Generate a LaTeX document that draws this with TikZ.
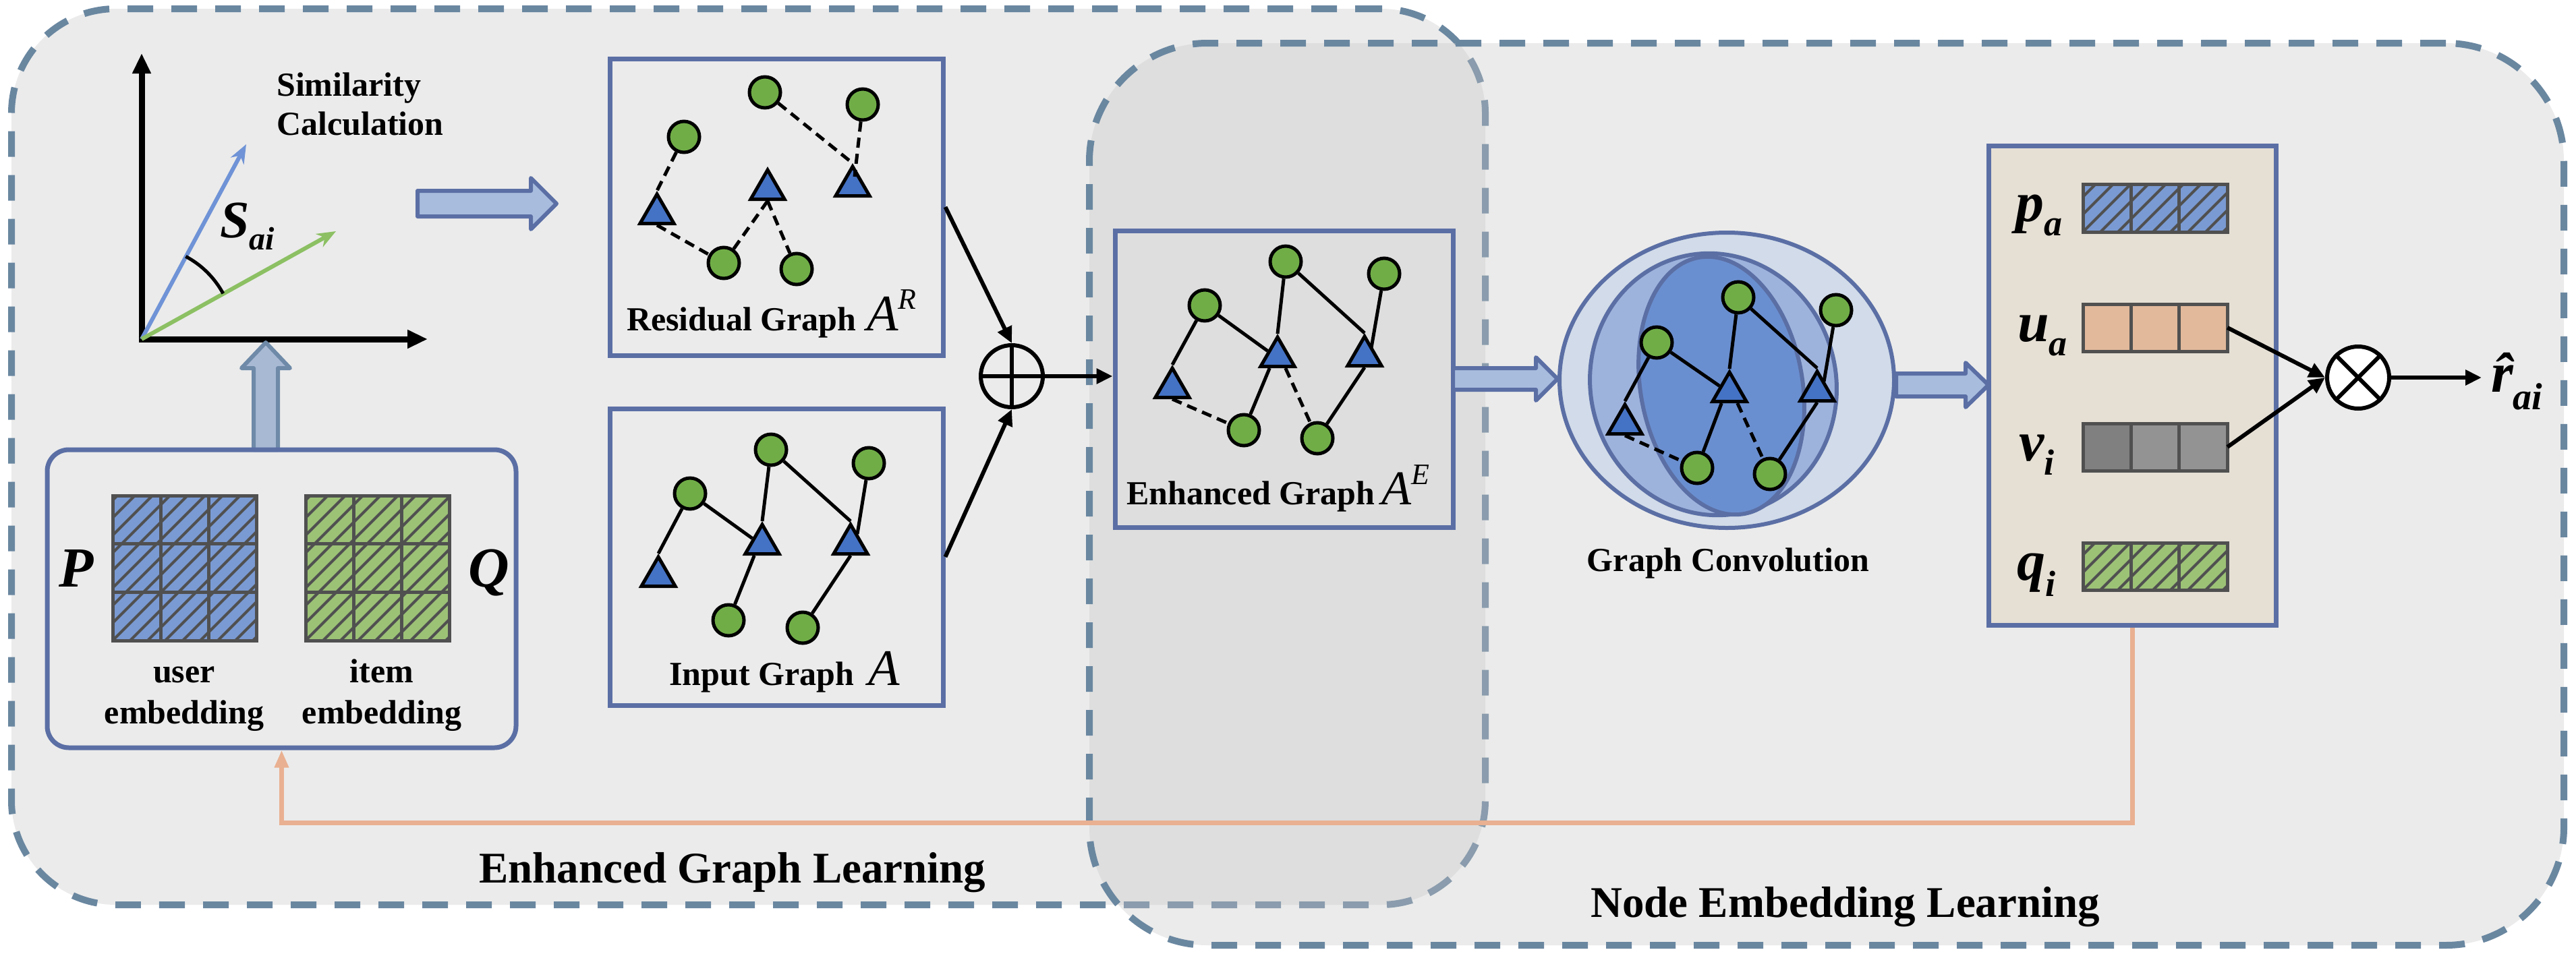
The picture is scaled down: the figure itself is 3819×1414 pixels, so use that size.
\documentclass[tikz,border=0pt]{standalone}
\usepackage{fontspec}
\setmainfont{Liberation Serif}
\usetikzlibrary{arrows.meta,shapes.geometric,fit,calc}
\newcommand\fsz[1]{\fontsize{#1}{#1}\selectfont}
\definecolor{dashc}{RGB}{106,135,160}
\definecolor{boxc}{RGB}{91,111,165}
\definecolor{bgA}{RGB}{235,235,235}
\definecolor{bgB}{RGB}{198,198,198}
\definecolor{arrfill}{RGB}{168,188,222}
\definecolor{uparrfill}{RGB}{168,185,212}
\definecolor{uparrline}{RGB}{110,138,168}
\definecolor{gnodec}{RGB}{112,173,71}
\definecolor{tnodec}{RGB}{68,114,196}
\definecolor{vblue}{RGB}{111,147,214}
\definecolor{vgreen}{RGB}{140,192,99}
\definecolor{pblue}{RGB}{122,154,211}
\definecolor{qgreen}{RGB}{156,194,118}
\definecolor{gridc}{RGB}{80,80,80}
\definecolor{uorange}{RGB}{226,185,155}
\definecolor{vgrayA}{RGB}{128,128,128}
\definecolor{vgrayB}{RGB}{147,147,147}
\definecolor{panelc}{RGB}{229,223,212}
\definecolor{orangec}{RGB}{233,176,145}
\definecolor{ellA}{RGB}{209,219,233}
\definecolor{ellB}{RGB}{158,179,220}
\definecolor{ellC}{RGB}{106,143,208}
\newcommand\blkR[7]{\draw[#7] (#1,{#3-#4}) -- ({#2-#6},{#3-#4}) -- ({#2-#6},{#3-#5}) -- (#2,#3) -- ({#2-#6},{#3+#5}) -- ({#2-#6},{#3+#4}) -- (#1,{#3+#4}) -- cycle;}
\newcommand\blkU[7]{\draw[#7] ({#1-#4},#2) -- ({#1-#4},{#3+#6}) -- ({#1-#5},{#3+#6}) -- (#1,#3) -- ({#1+#5},{#3+#6}) -- ({#1+#4},{#3+#6}) -- ({#1+#4},#2) -- cycle;}
\newcommand\hatchbox[4]{\begin{scope}\clip (#1,#2) rectangle (#3,#4);
  \foreach \k in {-260,-234,...,260} {\draw[hatchl] ({#1+\k},#4) -- ++(300,-300);}\end{scope}}
\begin{document}
\begin{tikzpicture}[x=1pt,y=-1pt,
  bigbox/.style={draw=dashc, line width=10pt, dash pattern=on 38pt off 27pt, inner sep=0pt},
  gbox/.style={draw=boxc, line width=7pt, inner sep=0pt},
  gnode/.style={circle, draw=black, fill=gnodec, line width=5pt, minimum size=46pt, inner sep=0pt},
  tnode/.style={regular polygon, regular polygon sides=3, draw=black, fill=tnodec, line width=5pt, minimum size=58pt, inner sep=0pt},
  sedge/.style={draw=black, line width=5pt},
  dedge/.style={draw=black, line width=5pt, dash pattern=on 15pt off 9pt},
  lbl/.style={font=\fsz{50}\bfseries, inner sep=0pt, anchor=base west},
  clbl/.style={font=\fsz{50}\bfseries, inner sep=0pt, anchor=base},
  biglbl/.style={font=\fsz{65}\bfseries, inner sep=0pt, anchor=base west},
  mathlbl/.style={font=\fsz{84}\bfseries\itshape, inner sep=0pt, anchor=base west},
  conn/.style={draw=black, line width=6pt, -{Triangle[length=24pt,width=22pt]}},
  axisline/.style={draw=black, line width=9pt, -{Triangle[length=30pt,width=26pt]}},
  vec/.style={line width=6pt, -{Stealth[length=28pt,width=22pt]}},
  barrow/.style={draw=boxc, fill=arrfill, line width=6pt, line join=round},
  uarrow/.style={draw=uparrline, fill=uparrfill, line width=6pt, line join=round},
  gridl/.style={draw=gridc, line width=5pt},
  hatchl/.style={draw=gridc, line width=4pt},
  ellb/.style={draw=boxc, line width=6pt},
  oline/.style={draw=orangec, line width=7pt, -{Triangle[length=26pt,width=20pt]}},
]
\useasboundingbox (0,0) rectangle (3819,1414);
\fill[white] (0,0) rectangle (3819,1414);

% big dashed regions
\node[bigbox, fill=bgA, rounded corners=155pt, fit={(17,13) (2202,1342)}] (egl) {};
\node[bigbox, fill=bgB, fill opacity=0.35, rounded corners=175pt, fit={(1615,64) (3801,1402)}] (nel) {};

% similarity axes
\coordinate (O) at (210,503);
\coordinate (Ytip) at (210,79);
\coordinate (Xtip) at (634,503);
\coordinate (Bt) at (365,214);
\coordinate (Gt) at (498,343);
\draw[axisline] ($(O)+(0,4.5)$) -- (Ytip);
\draw[axisline] ($(O)+(-4.5,0)$) -- (Xtip);
\draw[vec, draw=vblue, fill=vblue] (O) -- (Bt);
\draw[vec, draw=vgreen, fill=vgreen] (O) -- (Gt);
\draw[line width=5pt] (275.4,380.4) .. controls (299,392.9) and (317.9,411.9) .. (330.8,435.3);
\node[anchor=base west, inner sep=0pt, font=\fsz{78}\bfseries\itshape] (sai) at (326,352) {S\raisebox{-18pt}{\fsz{48}ai}};
\node[lbl] (simA) at (410,142) {Similarity};
\node[lbl] (simB) at (410,200) {Calculation};

% block arrows
\blkR{619}{825}{302}{19}{38}{38}{barrow}
\blkU{394}{667}{508}{18}{36}{38}{uarrow}

% embedding box
\node[gbox, rounded corners=32pt, fit={(70,667) (765,1109)}] (emb) {};
\fill[pblue] (167,735) rectangle (381,950);
\hatchbox{167}{735}{381}{950}
\foreach \i in {0,1,2} \foreach \j in {0,1,2} \draw[gridl] ({167+\i*71.33},{735+\j*71.67}) rectangle ++(71.33,71.67);
\fill[qgreen] (453,735) rectangle (667,950);
\hatchbox{453}{735}{667}{950}
\foreach \i in {0,1,2} \foreach \j in {0,1,2} \draw[gridl] ({453+\i*71.33},{735+\j*71.67}) rectangle ++(71.33,71.67);
\node[mathlbl] (Plbl) at (87,870) {P};
\node[mathlbl] (Qlbl) at (694,870) {Q};
\node[clbl] (userA) at (273,1012) {user};
\node[clbl] (userB) at (273,1073) {embedding};
\node[clbl] (itemA) at (566,1012) {item};
\node[clbl] (itemB) at (566,1073) {embedding};

% residual graph
\node[gbox, fit={(904,87) (1398,527)}] (res) {};
\node[gnode] (c1) at (1014,203) {};
\node[gnode] (c2) at (1134,137) {};
\node[gnode] (c3) at (1279,155) {};
\node[gnode] (c4) at (1073,390) {};
\node[gnode] (c5) at (1181,399) {};
\node[tnode] (t1) at (974,317) {};
\node[tnode] (t2) at (1138,281) {};
\node[tnode] (t3) at (1264,276) {};
\draw[dedge] (c1) -- (t1.corner 1);
\draw[dedge] (c2) -- (t3.corner 1);
\draw[dedge] (c3) -- ($(t3.center)+(3,-14)$);
\draw[dedge] (t1.side 2) -- (c4);
\draw[dedge] (c4) -- (t2.side 2);
\draw[dedge] (t2.side 2) -- (c5);
\node[lbl] (restxt) at (929,490) {Residual Graph\hspace{16pt}{\fsz{76}\mdseries\itshape A}\raisebox{32pt}{\fsz{44}\mdseries\itshape R}};

% input graph
\node[gbox, fit={(904,606) (1398,1046)}] (inp) {};
\node[gnode] (d1) at (1023,732) {};
\node[gnode] (d2) at (1143,667) {};
\node[gnode] (d3) at (1288,687) {};
\node[gnode] (d4) at (1080,920) {};
\node[gnode] (d5) at (1190,931) {};
\node[tnode] (s1) at (976,855) {};
\node[tnode] (s2) at (1130,807) {};
\node[tnode] (s3) at (1261,807) {};
\draw[sedge] (d1) -- (s1.corner 1);
\draw[sedge] (d1) -- (s2.side 1);
\draw[sedge] (d2) -- (s2.corner 1);
\draw[sedge] (d2) -- (s3.corner 1);
\draw[sedge] (d3) -- ($(s3.center)+(10,-15)$);
\draw[sedge] ($(s2.corner 2)!0.3!(s2.corner 3)$) -- (d4);
\draw[sedge] (s3.side 2) -- (d5);
\node[lbl] (inptxt) at (992,1016) {Input Graph\hspace{22pt}{\fsz{76}\mdseries\itshape A}};

% oplus
\node[circle, draw=black, line width=6pt, minimum size=92pt, inner sep=0pt] (op) at (1500,558) {};
\draw[line width=6pt] (op.north) -- (op.south);
\draw[line width=6pt] (op.west) -- (op.east);
\draw[conn] (res.east) -- (op.north);
\draw[conn] (inp.east) -- (op.south);

% enhanced graph
\node[gbox, fit={(1653,342) (2154,782)}] (enh) {};
\draw[conn] (op.east) -- (op.east -| enh.west);
\node[gnode] (e1) at (1786,453) {};
\node[gnode] (e2) at (1906,388) {};
\node[gnode] (e3) at (2052,406) {};
\node[gnode] (e4) at (1844,638) {};
\node[gnode] (e5) at (1953,650) {};
\node[tnode] (f1) at (1738,575) {};
\node[tnode] (f2) at (1894,529) {};
\node[tnode] (f3) at (2023,528) {};
\draw[sedge] (e1) -- (f1.corner 1);
\draw[sedge] (e1) -- (f2.side 1);
\draw[sedge] (e2) -- (f2.corner 1);
\draw[sedge] (e2) -- (f3.corner 1);
\draw[sedge] (e3) -- ($(f3.center)+(10,-12)$);
\draw[dedge] (f1.side 2) -- (e4);
\draw[sedge] ($(f2.corner 2)!0.3!(f2.corner 3)$) -- (e4);
\draw[dedge] ($(f2.corner 2)!0.7!(f2.corner 3)$) -- (e5);
\draw[sedge] (f3.side 2) -- (e5);
\node[lbl] (enhtxt) at (1670,748) {Enhanced Graph\hspace{10pt}{\fsz{72}\mdseries\itshape A}\raisebox{30pt}{\fsz{44}\mdseries\itshape E}};

% graph convolution
\blkR{2154}{2309}{562}{16}{32}{32}{barrow}
\node[ellipse, ellb, fill=ellA, minimum width=496pt, minimum height=438pt, inner sep=0pt] (gc) at (2560,564) {};
\draw[ellb, fill=ellB, rotate around={15:(2540,570)}] (2540,570) ellipse [x radius=182pt, y radius=195pt];
\draw[ellb, fill=ellC, rotate around={10:(2552,572)}] (2552,572) ellipse [x radius=120pt, y radius=193pt];
\node[gnode] (g1) at (2456,508) {};
\node[gnode] (g2) at (2577,441) {};
\node[gnode] (g3) at (2722,460) {};
\node[gnode] (g4) at (2516,694) {};
\node[gnode] (g5) at (2624,703) {};
\node[tnode] (h1) at (2409,629) {};
\node[tnode] (h2) at (2564,581) {};
\node[tnode] (h3) at (2694,580) {};
\draw[sedge] (g1) -- (h1.corner 1);
\draw[sedge] (g1) -- (h2.side 1);
\draw[sedge] (g2) -- (h2.corner 1);
\draw[sedge] (g2) -- (h3.corner 1);
\draw[sedge] (g3) -- ($(h3.center)+(10,-14)$);
\draw[dedge] (h1.side 2) -- (g4);
\draw[sedge] ($(h2.corner 2)!0.3!(h2.corner 3)$) -- (g4);
\draw[dedge] ($(h2.corner 2)!0.7!(h2.corner 3)$) -- (g5);
\draw[sedge] (h3.side 2) -- (g5);
\node[clbl] (gctxt) at (2562,847) {Graph Convolution};
\blkR{2811}{2948}{571}{17}{33}{34}{barrow}

% embedding panel
\node[gbox, fill=panelc, fit={(2948,216) (3374,927)}] (panel) {};
\fill[pblue] (3088,273) rectangle (3302,344);
\hatchbox{3088}{273}{3302}{344}
\foreach \i in {0,1,2} \draw[gridl] ({3088+\i*71.33},273) rectangle ++(71.33,71);
\fill[uorange] (3088,451) rectangle (3302,521);
\foreach \i in {0,1,2} \draw[gridl] ({3088+\i*71.33},451) rectangle ++(71.33,70);
\fill[vgrayA] (3088,628) rectangle (3159.33,698);
\fill[vgrayB] (3159.33,628) rectangle (3302,698);
\foreach \i in {0,1,2} \draw[gridl] ({3088+\i*71.33},628) rectangle ++(71.33,70);
\fill[qgreen] (3088,805) rectangle (3302,875);
\hatchbox{3088}{805}{3302}{875}
\foreach \i in {0,1,2} \draw[gridl] ({3088+\i*71.33},805) rectangle ++(71.33,70);
\node[inner sep=0pt, fit={(3088,451) (3302,521)}] (ubar) {};
\node[inner sep=0pt, fit={(3088,628) (3302,698)}] (vbar) {};
\node[mathlbl] (pa) at (2988,328) {p\raisebox{-21pt}{\fsz{54}a}};
\node[mathlbl] (ua) at (2991,506) {u\raisebox{-21pt}{\fsz{54}a}};
\node[mathlbl] (vi) at (2993,683) {v\raisebox{-21pt}{\fsz{54}i}};
\node[mathlbl] (qi) at (2990,860) {q\raisebox{-24pt}{\fsz{54}i}};

% otimes and output
\node[circle, draw=black, fill=white, line width=6pt, minimum size=92pt, inner sep=0pt] (ot) at (3496,560) {};
\draw[line width=6pt] (ot.north west) -- (ot.south east);
\draw[line width=6pt] (ot.north east) -- (ot.south west);
\draw[conn] (ubar.east) -- (ot.west);
\draw[conn] (vbar.east) -- (ot.west);
\node[mathlbl] (rhat) at (3693,581) {\^{r}\raisebox{-26pt}{\fsz{56}ai}};
\draw[conn] (ot.east) -- ($(ot.east -| rhat.west)+(-14,0)$);

% feedback line
\draw[oline] (panel.south) -- ++(0,290) -| (emb.south);

% region labels
\node[biglbl] (egltxt) at (710,1309) {Enhanced Graph Learning};
\node[biglbl] (neltxt) at (2358,1360) {Node Embedding Learning};
\end{tikzpicture}
\end{document}
